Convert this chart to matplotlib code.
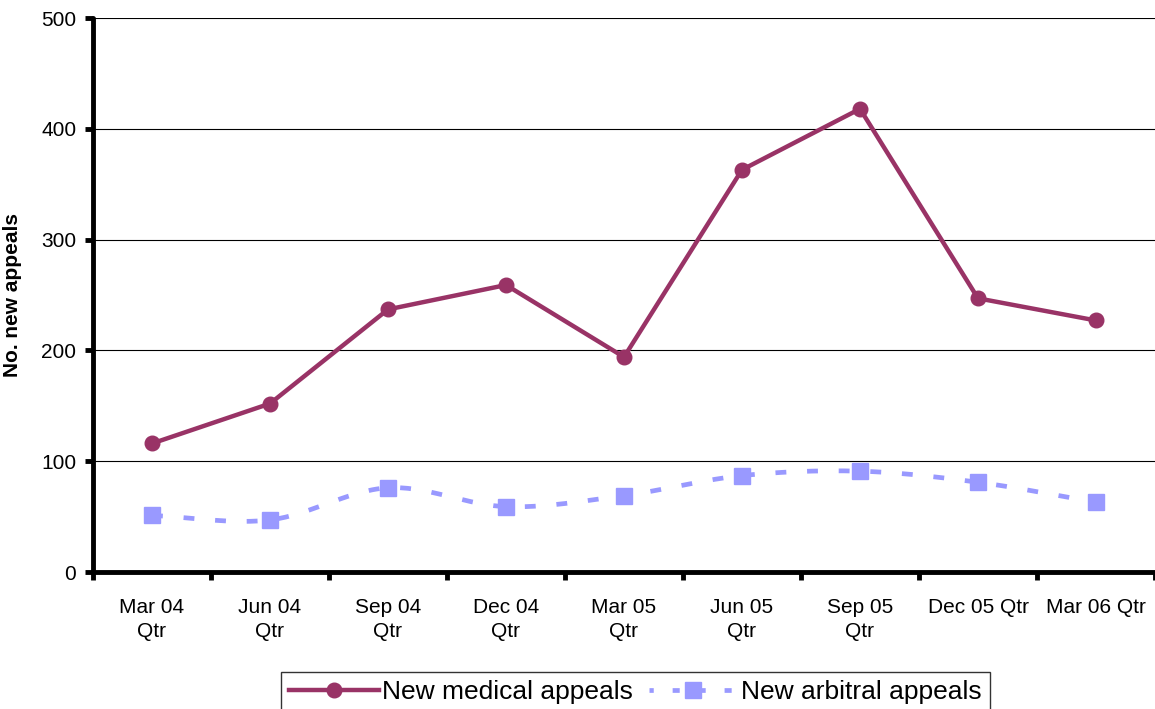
import numpy as np
import matplotlib
matplotlib.use("Agg")
import matplotlib.pyplot as plt
from matplotlib.lines import Line2D

categories = ["Mar 04\nQtr", "Jun 04\nQtr", "Sep 04\nQtr", "Dec 04\nQtr", "Mar 05\nQtr",
              "Jun 05\nQtr", "Sep 05\nQtr", "Dec 05 Qtr", "Mar 06 Qtr"]
medical = [116, 152, 237, 259, 194, 363, 418, 247, 227]
arbitral = [51, 47, 76, 59, 69, 87, 91, 81, 63]
yticks = [0, 100, 200, 300, 400, 500]

plt.rcParams['font.family'] = ['Liberation Sans', 'DejaVu Sans']

MED_C = '#993366'
ARB_C = '#9999FF'

fig = plt.figure(figsize=(11.55, 7.09), dpi=100)
ax = fig.add_axes([93/1155, 1-572/709, (1155-93)/1155, (572-18)/709])

x = np.arange(len(categories))

def catmull_rom(xs, ys, n=30):
    xs = np.asarray(xs, float); ys = np.asarray(ys, float)
    px = np.concatenate([[2*xs[0]-xs[1]], xs, [2*xs[-1]-xs[-2]]])
    py = np.concatenate([[2*ys[0]-ys[1]], ys, [2*ys[-1]-ys[-2]]])
    outx, outy = [], []
    for i in range(1, len(px)-2):
        t = np.linspace(0, 1, n, endpoint=False)
        for arr, out in ((px, outx), (py, outy)):
            p0, p1, p2, p3 = arr[i-1], arr[i], arr[i+1], arr[i+2]
            out.extend(0.5*((2*p1) + (-p0+p2)*t + (2*p0-5*p1+4*p2-p3)*t**2 + (-p0+3*p1-3*p2+p3)*t**3))
    outx.append(xs[-1]); outy.append(ys[-1])
    return np.array(outx), np.array(outy)

sx, sy = catmull_rom(x, arbitral)
ax.plot(sx, sy, color=ARB_C, lw=3.4, ls=(0, (2.3, 4.4)), zorder=3)
ax.plot(x, arbitral, ls='none', marker='s', ms=11.5, color=ARB_C, mec=ARB_C, zorder=4)
ax.plot(x, medical, color=MED_C, lw=3.2, marker='o', ms=10.5, zorder=5)

ax.set_xlim(-0.5, len(categories)-0.5)
ax.set_ylim(0, 500)
ax.set_yticks(yticks)
ax.set_yticklabels([str(v) for v in yticks], fontsize=15)
ax.set_xticks(x)
ax.set_xticklabels(categories, fontsize=15, linespacing=1.3)
ax.set_xticks(np.arange(-0.5, len(categories)-0.4, 1), minor=True)
ax.tick_params(axis='x', which='major', length=0, pad=19)
ax.tick_params(axis='x', which='minor', length=6, width=3.5, direction='out')
ax.tick_params(axis='y', length=6, width=3.5, pad=6)
ax.yaxis.grid(True, color='black', lw=0.8)
ax.set_axisbelow(True)
for s in ('top', 'right'):
    ax.spines[s].set_visible(False)
for s in ('left', 'bottom'):
    ax.spines[s].set_linewidth(3.5)
    ax.spines[s].set_capstyle('round')
ax.set_ylabel("No. new appeals", fontsize=15, fontweight='bold')
ax.yaxis.set_label_coords(-0.067, 0.5)

h1 = Line2D([], [], color=MED_C, lw=3.2, marker='o', ms=10.5)
h2 = Line2D([], [], color=ARB_C, lw=3.4, ls=(0.6, (1.5, 4)), marker='s', ms=11.5)
leg = fig.legend([h1, h2], ["New medical appeals", "New arbitral appeals"],
                 loc='upper left', bbox_to_anchor=(281/1155, 1-672/709), ncol=2,
                 fontsize=19, frameon=True, fancybox=False, edgecolor='black',
                 handlelength=3.4, handletextpad=0.12, columnspacing=0.6,
                 borderpad=0.3, borderaxespad=0)
leg.get_frame().set_linewidth(1.0)

fig.savefig("out.png", dpi=100)
